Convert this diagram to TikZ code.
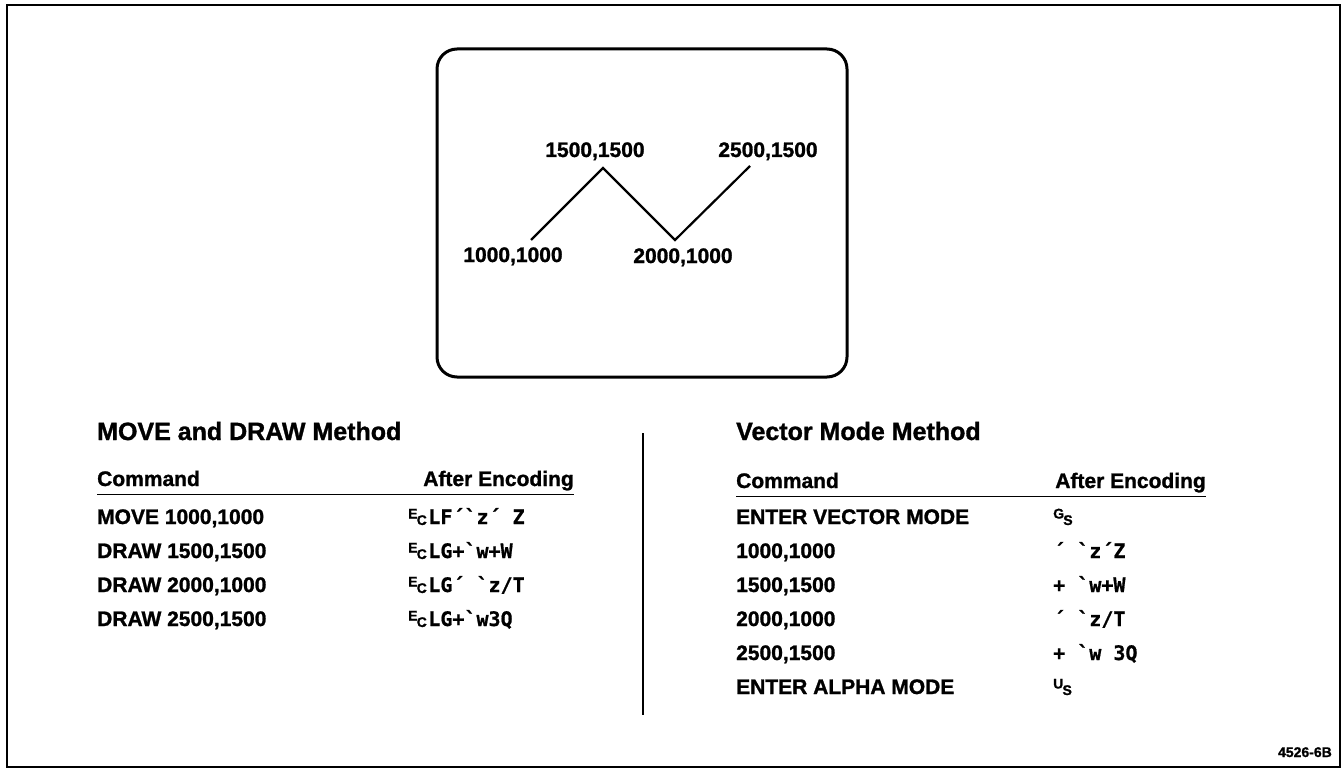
\documentclass[tikz,border=0pt]{standalone}
\usepackage{fontspec}
\setmainfont{Liberation Sans}[BoldFeatures={FakeBold=1.2}]
\setmonofont{DejaVu Sans Mono}[BoldFeatures={FakeBold=0.8}]
\newcommand\ctlp[2]{{\normalfont\bfseries\fontsize{14}{14}\selectfont\raisebox{5.5pt}{#1}\kern-0.8pt\raisebox{-1pt}{#2}}\kern1.5pt}
\tikzset{
  lbl/.style={font=\fontsize{21}{21}\selectfont\bfseries, anchor=base, inner sep=0pt},
  ttl/.style={font=\fontsize{25}{25}\selectfont\bfseries, anchor=base west, inner sep=0pt},
  cmd/.style={font=\fontsize{21}{21}\selectfont\bfseries, anchor=base west, inner sep=0pt},
  hdr/.style={font=\fontsize{21}{21}\selectfont\bfseries, inner sep=0pt},
  enc/.style={font=\fontsize{20}{20}\selectfont\ttfamily\bfseries, anchor=base west, inner sep=0pt},
  hrule/.style={line width=1pt},
  thick frame/.style={line width=2.6pt},
}
\begin{document}
\begin{tikzpicture}[x=1pt,y=-1pt]
\useasboundingbox (0,0) rectangle (1343,770);
% outer frame
\draw[thick frame] (7,5) rectangle (1340,767);
% screen
\draw[line width=3pt, rounded corners=20pt] (437,49) rectangle (847,377);
% polyline
\coordinate (p1) at (531,240);
\coordinate (p2) at (603,168);
\coordinate (p3) at (675,240);
\coordinate (p4) at (750,166);
\draw[line width=2.2pt] (p1) -- (p2) -- (p3) -- (p4);
\node[lbl] (l1) at (513,262) {1000,1000};
\node[lbl] (l2) at (595,157) {1500,1500};
\node[lbl] (l3) at (683,263) {2000,1000};
\node[lbl] (l4) at (768,157) {2500,1500};
% divider
\coordinate (dv1) at (643,433);
\coordinate (dv2) at (643,715);
\draw[line width=1.6pt] (dv1) -- (dv2);
% left table
\node[ttl] (tl) at (97,440) {MOVE and DRAW Method};
\node[hdr, anchor=base west] (hl1) at (97,486) {Command};
\node[hdr, anchor=base east] (hl2) at (574,486) {After Encoding};
\coordinate (rl1) at (97,494);
\coordinate (rl2) at (574,494);
\draw[hrule] (rl1) -- (rl2);
\node[cmd] (c1) at (97,524) {MOVE 1000,1000};
\node[cmd] (c2) at (97,558) {DRAW 1500,1500};
\node[cmd] (c3) at (97,592) {DRAW 2000,1000};
\node[cmd] (c4) at (97,626) {DRAW 2500,1500};
\node[enc] (e1) at (408,524) {\ctlp{E}{C}LF´`z´ Z};
\node[enc] (e2) at (408,558) {\ctlp{E}{C}LG+`w+W};
\node[enc] (e3) at (408,592) {\ctlp{E}{C}LG´ `z/T};
\node[enc] (e4) at (408,626) {\ctlp{E}{C}LG+`w3Q};
% right table
\node[ttl] (tr) at (736,440) {Vector Mode Method};
\node[hdr, anchor=base west] (hr1) at (736,488) {Command};
\node[hdr, anchor=base east] (hr2) at (1206,488) {After Encoding};
\coordinate (rr1) at (736,496);
\coordinate (rr2) at (1206,496);
\draw[hrule] (rr1) -- (rr2);
\node[cmd] (d1) at (736,524) {ENTER VECTOR MODE};
\node[cmd] (d2) at (736,558) {1000,1000};
\node[cmd] (d3) at (736,592) {1500,1500};
\node[cmd] (d4) at (736,626) {2000,1000};
\node[cmd] (d5) at (736,660) {2500,1500};
\node[cmd] (d6) at (736,694) {ENTER ALPHA MODE};
\node[enc] (f1) at (1053,524) {\ctlp{G}{S}};
\node[enc] (f2) at (1053,558) {´ `z´Z};
\node[enc] (f3) at (1053,592) {+ `w+W};
\node[enc] (f4) at (1053,626) {´ `z/T};
\node[enc] (f5) at (1053,660) {+ `w 3Q};
\node[enc] (f6) at (1053,694) {\ctlp{U}{S}};
% figure number
\node[font=\fontsize{14}{14}\selectfont\bfseries, anchor=base east, inner sep=0pt] (fig) at (1332,757) {4526-6B};
\end{tikzpicture}
\end{document}
